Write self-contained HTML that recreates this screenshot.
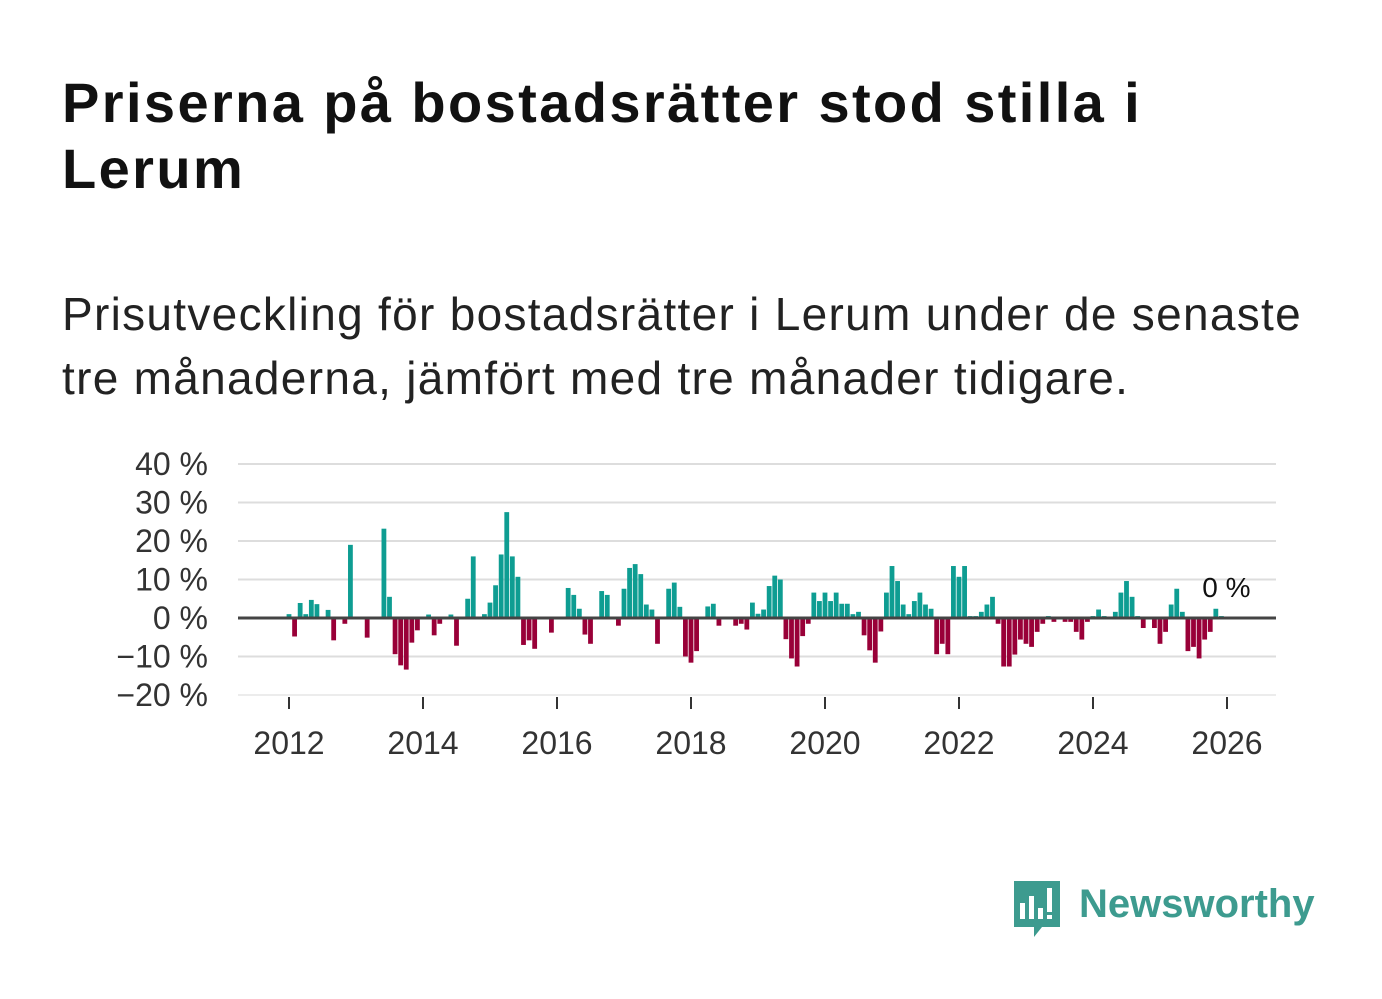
<!DOCTYPE html>
<html><head><meta charset="utf-8"><style>
body{margin:0;width:1382px;height:999px;background:#fff;overflow:hidden;font-family:"Liberation Sans",sans-serif;}
#title{position:absolute;left:62px;top:70px;margin:0;font-size:56px;font-weight:bold;line-height:66px;color:#111;letter-spacing:2.4px;white-space:nowrap;}
#sub{position:absolute;left:62px;top:282px;margin:0;font-size:46px;line-height:64px;color:#222;letter-spacing:1.3px;white-space:nowrap;}
svg{position:absolute;left:0;top:0;}
</style></head><body>
<h1 id="title">Priserna på bostadsrätter stod stilla i<br>Lerum</h1>
<p id="sub">Prisutveckling för bostadsrätter i Lerum under de senaste<br>tre månaderna, jämfört med tre månader tidigare.</p>
<svg id="chart" width="1382" height="999"></svg>
<script>
const yTicks=[40,30,20,10,0,-10,-20];
const yTickLabels=["40 %","30 %","20 %","10 %","0 %","−10 %","−20 %"];
const xYears=[2012,2014,2016,2018,2020,2022,2024,2026];
const startYear=2012;
const values=[1,-4.8,3.9,1,4.7,3.6,0,2.1,-5.8,0,-1.5,19,
0,0,-5.1,0,0,23.2,5.5,-9.4,-12.3,-13.4,-6.4,-3.2,
0,0.9,-4.5,-1.5,0,0.9,-7.2,0,5,16,0,1,
4,8.5,16.5,27.5,16,10.7,-7,-5.8,-8,0,0,-3.8,
0,0,7.8,6,2.4,-4.3,-6.7,0,7,6,0,-2,
7.6,13,14,11.4,3.5,2.2,-6.7,0,7.6,9.2,2.9,-10,
-11.6,-8.6,0,3,3.7,-2,0,0,-2,-1.5,-3,4,
1.1,2.2,8.3,11,10,-5.5,-10.5,-12.6,-4.7,-1.5,6.6,4.4,
6.6,4.4,6.6,3.7,3.7,1,1.6,-4.5,-8.4,-11.6,-3.5,6.6,
13.5,9.6,3.5,1,4.4,6.6,3.5,2.4,-9.4,-6.7,-9.4,13.5,
10.7,13.5,0.5,0.5,1.6,3.5,5.5,-1.5,-12.6,-12.6,-9.5,-5.6,
-6.7,-7.5,-3.6,-1.5,0.5,-1,0,-1,-1,-3.6,-5.6,-1,
0.5,2.2,0.5,0,1.6,6.6,9.6,5.5,0.5,-2.6,0,-2.6,
-6.7,-3.6,3.5,7.6,1.6,-8.6,-7.5,-10.5,-5.6,-3.6,2.4,0.5];
const lastLabel="0 %";

const svg=document.getElementById('chart');
const NS='http://www.w3.org/2000/svg';
const y=v=>618-v*3.85;
const x=m=>289+m*(938/168);
function mk(tag,a){const e=document.createElementNS(NS,tag);for(const k in a)e.setAttribute(k,a[k]);svg.appendChild(e);return e;}
yTicks.forEach((t,i)=>{
 if(t!==0){const g=mk('line',{x1:238,x2:1276,y1:y(t),y2:y(t),stroke:t===-20?'#ececec':'#dddddd','stroke-width':2});
 
 }
 const l=mk('text',{x:208,y:y(t)+11,'text-anchor':'end','font-size':32,fill:'#333','font-family':'Liberation Sans, sans-serif'});
 l.textContent=yTickLabels[i];
 
 
});
xYears.forEach(yr=>{
 const px=x((yr-startYear)*12);
 const tk=mk('line',{x1:px,x2:px,y1:697,y2:709,stroke:'#333','stroke-width':2});
 
 
 const l=mk('text',{x:px,y:754,'text-anchor':'middle','font-size':32,fill:'#333','font-family':'Liberation Sans, sans-serif'});
 l.textContent=yr;
 
 
});
values.forEach((v,m)=>{
 if(v===0)return;
 const cx=x(m);
 const r=mk('rect',{x:cx-2.4,width:4.8,y:Math.min(y(v),618),height:Math.abs(y(v)-618),fill:v>0?'#0e9d92':'#990038'});
 
 
});
const z=mk('line',{x1:238,x2:1276,y1:618,y2:618,stroke:'#444','stroke-width':3});


const ll=mk('text',{x:x(values.length-1)+5,y:597,'text-anchor':'middle','font-size':28,fill:'#111','font-family':'Liberation Sans, sans-serif'});
ll.textContent=lastLabel;


</script>
<svg width="1382" height="999" style="pointer-events:none">
 <path d="M1014 881 h46 v46 h-18 l-8 10 v-10 h-20 z" fill="#3d9b8f"/>
 <rect x="1020" y="903" width="5" height="16" fill="#fff"/>
 <rect x="1029" y="896" width="5" height="23" fill="#fff"/>
 <rect x="1038" y="908" width="5" height="11" fill="#fff"/>
 <rect x="1047" y="888" width="5" height="24" fill="#fff"/>
 <rect x="1047" y="915" width="5" height="4" fill="#fff"/>
 <text x="1079" y="917" font-size="40" font-weight="bold" fill="#3d9b8f" font-family="Liberation Sans, sans-serif">Newsworthy</text>
</svg>
</body></html>
